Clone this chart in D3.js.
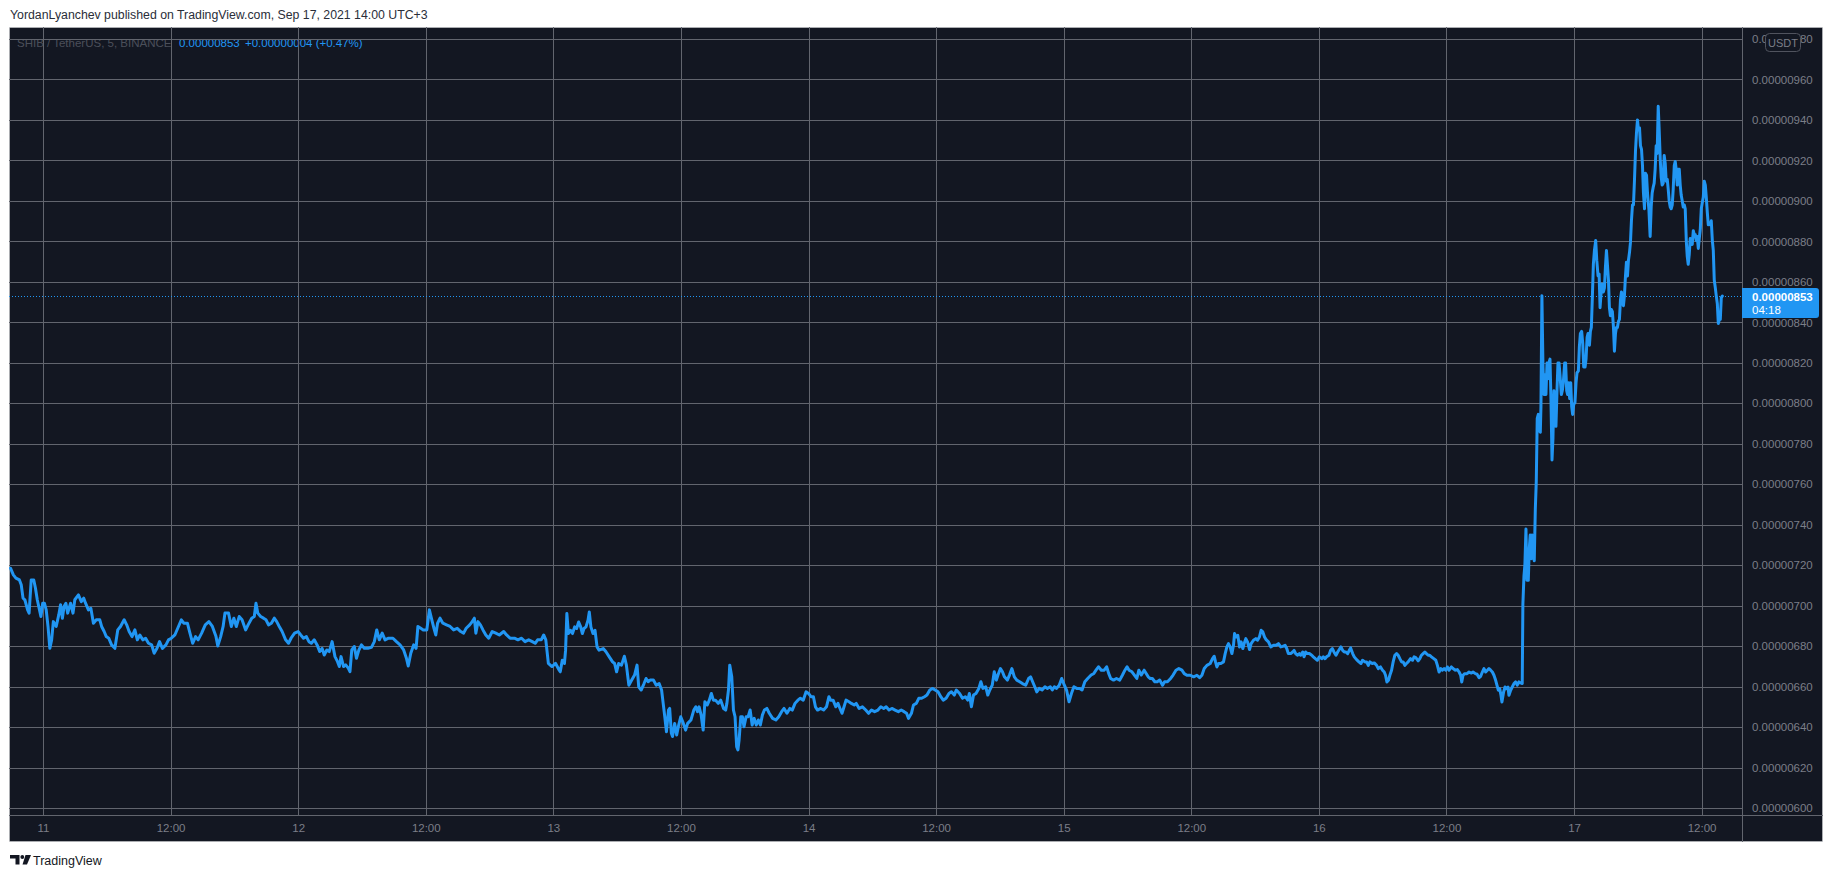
<!DOCTYPE html>
<html><head><meta charset="utf-8">
<script src="https://cdn.jsdelivr.net/npm/d3@7"></script>
<style>
html,body{margin:0;padding:0;background:#fff;}
svg{display:block;}
</style></head><body>
<svg id="chart" width="1834" height="878"></svg>
<script>
// ---------------- data ----------------
const title = "YordanLyanchev published on TradingView.com, Sep 17, 2021 14:00 UTC+3";
const symbolText = "SHIB / TetherUS, 5, BINANCE";
const lastText = "0.00000853";
const changeText = "+0.00000004 (+0.47%)";
const currencyText = "USDT";
const countdownText = "04:18";
const brandText = "TradingView";

const START = Date.UTC(2021, 8, 11, 0, 0); // Sep 11 00:00 (chart time)
const xDomainHours = [-3.2, 159.8];
const yDomain = [600, 980];                 // price in 1e-8 USDT
const lastPrice = 853;

const yTicks = [600,620,640,660,680,700,720,740,760,780,800,820,840,860,880,900,920,940,960,980];
const yTickLabels = ["0.00000600","0.00000620","0.00000640","0.00000660","0.00000680","0.00000700","0.00000720","0.00000740","0.00000760","0.00000780","0.00000800","0.00000820","0.00000840","0.00000860","0.00000880","0.00000900","0.00000920","0.00000940","0.00000960","0.00000980"];
const xTickHours = [0,12,24,36,48,60,72,84,96,108,120,132,144,156];
const xTickLabels = ["11","12:00","12","12:00","13","12:00","14","12:00","15","12:00","16","12:00","17","12:00"];

// [hours since Sep 11 00:00, price in 1e-8 USDT]
const pricesSep11 = [[-3.06,718.5],[-2.79,715.2],[-2.55,713.6],[-2.22,712.7],[-2.05,710.3],[-1.88,703.7],[-1.71,702.9],[-1.45,697.9],[-1.31,696.3],[-1.11,712.7],[-0.87,712.7],[-0.71,708.6],[-0.54,702.9],[-0.20,694.6],[-0.03,701.2],[0.13,701.2],[0.30,697.9],[0.47,689.7],[0.64,678.9],[0.81,683.1],[0.97,692.1],[1.24,689.7],[1.48,695.4],[1.65,700.4],[1.82,693.8],[1.98,699.6],[2.15,701.2],[2.32,696.3],[2.59,701.2],[2.82,696.3],[2.99,702.9],[3.33,705.3],[3.60,702.0],[3.83,703.7],[4.00,701.2],[4.27,697.9],[4.50,698.7],[4.74,691.3],[5.01,693.0],[5.34,693.0],[5.51,689.7],[5.75,687.2],[5.95,684.7],[6.18,683.9],[6.45,680.6],[6.76,678.9],[7.03,688.0],[7.29,689.7],[7.63,693.0],[7.87,690.5],[8.10,687.2],[8.37,684.7],[8.64,688.0],[8.87,683.1],[9.11,685.5],[9.38,683.1],[9.65,683.9],[9.92,681.4],[10.22,680.6],[10.45,676.5],[10.72,678.9],[10.96,682.2],[11.23,678.9],[11.56,680.6],[11.80,683.1],[12.07,683.9],[12.40,685.5],[12.74,689.7],[13.01,693.0],[13.24,691.3],[13.58,691.3],[13.82,686.4],[14.08,681.4],[14.35,684.7],[14.59,683.1],[14.92,686.4],[15.26,690.5],[15.60,692.1],[15.93,689.7],[16.27,684.7],[16.44,680.1],[16.71,684.7],[16.94,689.7],[17.11,696.3],[17.45,696.3],[17.71,689.7],[17.95,693.8],[18.18,689.7],[18.45,694.6],[18.72,693.0],[19.06,688.0],[19.29,690.5],[19.63,693.8],[19.87,694.6],[20.03,701.2],[20.20,696.3],[20.47,694.6],[20.74,693.8],[20.97,693.0],[21.21,690.5],[21.48,691.3],[21.75,693.8],[21.98,692.1],[22.22,689.7],[22.49,687.2],[22.82,683.1],[23.09,681.4],[23.33,683.9],[23.66,686.4]];
const pricesSep12 = [[24.00,687.2],[24.24,685.5],[24.50,683.9],[24.77,684.7],[25.01,682.2],[25.24,681.4],[25.51,683.1],[25.78,680.6],[26.02,677.3],[26.25,678.9],[26.45,675.6],[26.69,678.1],[26.92,677.3],[27.19,682.2],[27.46,674.8],[27.70,672.3],[27.87,669.9],[28.03,674.8],[28.27,669.9],[28.47,670.7],[28.71,669.1],[28.87,667.4],[29.04,678.1],[29.28,679.8],[29.48,674.0],[29.71,678.1],[29.95,680.6],[30.22,678.9],[30.55,678.9],[30.89,679.4],[31.16,682.2],[31.39,688.0],[31.63,683.1],[31.90,686.4],[32.17,683.1],[32.50,683.9],[32.91,683.9],[33.24,682.2],[33.58,680.6],[33.92,678.1],[34.18,674.0],[34.35,670.2],[34.59,676.5],[34.86,680.6],[35.09,678.9],[35.26,689.7],[35.53,688.8],[35.76,688.0],[36.10,688.0],[36.34,697.9],[36.61,692.1],[36.77,688.8],[36.94,685.5],[37.11,691.3],[37.34,693.8],[37.61,691.3],[37.95,690.5],[38.29,689.7],[38.62,688.0],[38.96,688.8],[39.29,687.2],[39.56,686.4],[39.80,688.8],[40.13,690.5],[40.37,692.1],[40.57,693.8],[40.71,686.4],[40.91,692.1],[41.14,690.5],[41.38,688.0],[41.65,685.5],[41.92,683.9],[42.25,687.2],[42.59,686.4],[42.92,685.5],[43.33,687.2],[43.60,685.5],[43.93,683.9],[44.34,683.9],[44.67,683.1],[45.01,683.9],[45.34,682.2],[45.68,683.1],[46.02,682.2],[46.29,681.4],[46.52,683.1],[46.86,683.1],[47.09,685.5],[47.29,683.1],[47.53,671.5],[47.87,669.9]];
const pricesSep13 = [[48.20,671.5],[48.54,668.2],[48.65,667.3],[48.84,673.0],[49.04,671.4],[49.15,678.0],[49.27,696.1],[49.42,686.2],[49.61,687.8],[49.80,686.2],[50.00,689.5],[50.19,688.7],[50.38,691.9],[50.57,689.5],[50.73,686.2],[50.88,688.7],[51.07,689.5],[51.26,692.8],[51.38,696.9],[51.53,689.5],[51.73,686.2],[51.92,687.8],[52.11,679.6],[52.30,678.0],[52.69,678.8],[52.95,677.2],[53.26,674.7],[53.57,672.2],[53.76,671.4],[53.95,667.3],[54.14,671.4],[54.41,670.6],[54.68,675.0],[54.87,670.6],[55.10,660.7],[55.37,663.2],[55.64,665.7],[55.87,670.6],[56.03,659.9],[56.26,658.3],[56.53,661.5],[56.72,664.0],[56.91,662.4],[57.10,663.2],[57.41,663.2],[57.68,660.7],[57.95,661.5],[58.18,658.3],[58.33,651.7],[58.48,645.1],[58.64,637.7],[58.83,648.4],[58.94,649.2],[59.10,636.9],[59.21,635.3],[59.41,641.8],[59.60,636.1],[59.79,641.0],[59.98,645.1],[60.17,642.6],[60.44,638.5],[60.63,641.8],[60.94,643.5],[61.21,648.4],[61.40,650.0],[61.56,647.6],[61.71,650.0],[61.90,645.9],[62.09,638.5],[62.25,652.5],[62.48,650.9],[62.67,653.3],[62.86,656.6],[63.05,653.3],[63.25,653.3],[63.51,651.7],[63.74,653.3],[64.01,649.2],[64.21,648.4],[64.32,651.7],[64.47,658.3],[64.59,670.6],[64.78,664.8],[64.94,648.4],[65.09,645.1],[65.24,630.3],[65.36,628.7],[65.47,633.6],[65.63,645.1],[65.78,645.1],[65.93,640.2],[66.13,645.1],[66.32,645.1],[66.51,648.4],[66.70,641.0],[66.89,644.3],[67.09,641.0],[67.28,643.5],[67.47,641.0],[67.66,645.9],[67.85,648.4],[68.08,649.2],[68.31,646.8],[68.62,644.3],[68.93,643.5],[69.20,645.1],[69.47,647.6],[69.70,649.2],[69.97,646.8],[70.24,649.2],[70.47,648.4],[70.73,651.7],[71.00,653.3],[71.23,654.2],[71.50,653.3],[71.77,657.4]];
const pricesSep14 = [[72.00,656.6],[72.23,655.0],[72.46,655.0],[72.65,650.0],[72.85,648.4],[73.15,649.2],[73.42,648.4],[73.69,650.0],[73.92,655.0],[74.08,653.3],[74.31,653.3],[74.57,650.0],[74.77,651.7],[74.96,649.2],[75.15,646.8],[75.34,650.0],[75.53,653.3],[75.80,652.5],[76.03,651.7],[76.30,650.9],[76.49,651.7],[76.76,649.2],[77.07,650.0],[77.38,648.4],[77.65,646.8],[77.92,648.4],[78.22,647.6],[78.53,648.4],[78.80,650.0],[79.07,649.2],[79.30,650.0],[79.57,648.4],[79.84,649.2],[80.14,648.4],[80.45,647.6],[80.72,648.4],[80.99,647.6],[81.22,646.8],[81.41,644.3],[81.68,646.8],[81.87,650.9],[82.14,651.7],[82.37,654.2],[82.64,654.2],[82.91,655.0],[83.14,655.8],[83.41,658.3],[83.68,659.1],[83.91,658.3],[84.18,657.4],[84.44,655.0],[84.67,653.3],[84.94,654.2],[85.21,656.6],[85.44,657.4],[85.71,655.8],[85.90,658.3],[86.21,656.6],[86.48,654.2],[86.75,655.0],[86.98,653.3],[87.13,656.6],[87.32,650.0],[87.52,655.8],[87.75,656.6],[88.02,659.1],[88.21,662.4],[88.40,659.1],[88.67,659.9],[88.86,655.8],[89.05,658.3],[89.28,660.7],[89.47,667.3],[89.67,663.2],[89.82,665.7],[90.05,668.9],[90.24,667.3],[90.43,664.8],[90.70,663.2],[90.90,665.7],[91.13,668.9],[91.36,664.8],[91.59,663.2],[91.86,662.4],[92.12,661.5],[92.43,660.7],[92.70,664.0],[92.89,664.8],[93.08,662.4],[93.28,659.9],[93.47,657.4],[93.70,659.1],[93.97,658.3],[94.24,659.9],[94.47,659.1],[94.74,659.9],[94.93,658.3],[95.12,659.9],[95.31,659.1],[95.58,660.7],[95.81,664.0]];
const pricesSep15 = [[96.00,661.5],[96.27,658.3],[96.50,652.5],[96.73,656.6],[96.96,659.9],[97.23,659.1],[97.50,659.1],[97.73,658.3],[97.99,662.4],[98.26,664.0],[98.58,665.7],[98.84,666.5],[99.04,668.1],[99.27,669.8],[99.54,668.1],[99.81,668.1],[100.04,669.8],[100.23,666.5],[100.42,664.0],[100.69,663.2],[100.96,664.0],[101.27,663.2],[101.53,665.7],[101.76,668.1],[101.96,669.8],[102.15,668.1],[102.42,667.3],[102.65,665.7],[102.88,664.0],[103.07,668.1],[103.30,665.7],[103.57,668.1],[103.76,666.5],[103.95,664.8],[104.14,664.0],[104.34,664.0],[104.57,662.4],[104.80,662.4],[105.03,663.2],[105.30,660.7],[105.49,662.4],[105.76,662.4],[106.06,664.0],[106.29,665.7],[106.56,668.1],[106.83,668.9],[107.12,668.1],[107.34,666.4],[107.59,665.6],[107.91,665.6],[108.22,664.8],[108.53,665.6],[108.78,664.4],[109.00,665.6],[109.22,668.9],[109.47,670.5],[109.78,671.4],[110.00,673.8],[110.16,675.0],[110.28,672.2],[110.41,669.7],[110.57,671.4],[110.78,671.4],[111.03,672.2],[111.19,676.3],[111.35,679.6],[111.50,681.2],[111.66,679.6],[111.82,676.3],[111.97,680.4],[112.07,686.2],[112.22,684.5],[112.38,685.3],[112.54,679.6],[112.69,682.1],[112.85,678.8],[112.97,681.2],[113.13,683.7],[113.29,682.1],[113.48,678.3],[113.63,681.2],[113.85,682.9],[114.07,683.7],[114.23,682.9],[114.41,684.5],[114.57,687.8],[114.73,687.0],[114.89,684.5],[115.04,683.2],[115.26,682.1],[115.48,679.6],[115.73,680.4],[115.98,680.4],[116.20,681.2],[116.42,679.6],[116.60,679.9],[116.82,680.4],[116.98,678.8],[117.13,676.3],[117.35,676.3],[117.54,677.1],[117.67,677.9],[117.82,676.3],[117.98,675.5],[118.17,676.3],[118.29,675.5],[118.48,677.1],[118.61,674.7],[118.76,677.1],[118.92,676.3],[119.11,676.3],[119.33,675.5],[119.48,674.7],[119.67,673.8],[119.86,673.0]];
const pricesSep16 = [[120.05,674.7],[120.27,673.8],[120.42,674.7],[120.58,673.8],[120.73,674.7],[120.95,675.5],[121.11,677.9],[121.27,678.8],[121.42,677.1],[121.61,675.5],[121.77,677.1],[121.92,678.3],[122.08,679.6],[122.24,677.9],[122.39,677.1],[122.55,677.1],[122.71,676.3],[122.86,677.9],[122.99,679.1],[123.18,676.3],[123.33,674.7],[123.55,673.3],[123.77,672.2],[123.96,671.4],[124.11,673.0],[124.33,672.2],[124.49,672.2],[124.65,670.5],[124.80,672.2],[125.02,671.4],[125.21,671.7],[125.43,670.5],[125.59,668.9],[125.80,669.7],[125.99,668.1],[126.15,667.2],[126.27,665.6],[126.40,662.3],[126.55,663.1],[126.68,665.6],[126.84,668.1],[126.99,672.2],[127.15,675.5],[127.31,676.3],[127.46,675.5],[127.62,673.8],[127.78,672.2],[127.93,672.2],[128.09,670.5],[128.24,671.4],[128.40,672.2],[128.62,673.8],[128.81,673.0],[128.96,674.7],[129.12,674.3],[129.34,672.7],[129.50,673.8],[129.65,675.5],[129.81,676.3],[129.97,677.1],[130.12,676.3],[130.28,675.5],[130.43,675.5],[130.59,674.7],[130.81,673.8],[131.00,673.0],[131.15,670.5],[131.31,667.2],[131.47,668.9],[131.62,668.1],[131.78,668.9],[131.94,668.1],[132.09,669.7],[132.25,668.1],[132.47,669.7],[132.62,668.9],[132.84,668.1],[133.03,668.4],[133.19,667.2],[133.34,665.6],[133.44,662.3],[133.56,665.6],[133.72,666.4],[133.94,666.4],[134.13,667.2],[134.35,666.7],[134.50,667.2],[134.72,666.4],[134.88,666.1],[135.07,664.4],[135.22,665.1],[135.38,667.2],[135.53,668.9],[135.69,667.2],[135.85,668.1],[136.00,668.9],[136.16,668.1],[136.32,667.2],[136.47,665.6],[136.63,663.1],[136.75,660.7],[136.88,658.2],[137.01,659.0],[137.13,655.7],[137.22,652.4],[137.38,657.4],[137.51,659.8],[137.63,659.0],[137.79,659.8],[137.88,655.7],[138.04,658.2],[138.19,659.8],[138.35,661.5],[138.51,662.3],[138.66,660.7],[138.82,662.3],[138.98,661.8],[139.13,661.5],[139.19,700.7],[139.29,714.4],[139.38,720.3],[139.48,737.9],[139.57,712.5],[139.70,712.5],[139.79,728.1],[139.88,734.9],[139.98,723.2],[140.07,734.9],[140.17,726.1],[140.26,722.2],[140.36,747.6],[140.45,761.3],[140.54,792.5],[140.64,794.5],[140.70,786.7],[140.83,785.7],[140.89,798.4],[140.98,853.1],[141.08,817.9],[141.17,804.3],[141.27,814.0],[141.36,804.3],[141.46,819.9],[141.55,812.1],[141.64,819.9],[141.74,821.8],[141.83,802.3],[141.93,772.0],[142.02,782.8],[142.11,806.2],[142.21,798.4],[142.30,788.6],[142.40,806.2],[142.49,819.9],[142.59,819.9],[142.68,814.0],[142.81,804.3],[142.90,806.2],[142.99,810.1],[143.12,819.9],[143.21,819.9],[143.31,806.2],[143.40,804.3],[143.50,810.1],[143.59,802.3],[143.69,810.1],[143.78,798.4],[143.87,794.5],[143.97,799.4]];
const pricesSep17 = [[144.09,800.4],[144.19,810.1],[144.28,815.0],[144.41,816.0],[144.50,827.7],[144.60,834.5],[144.72,835.5],[144.82,829.6],[144.91,817.9],[145.04,817.9],[145.13,821.8],[145.23,832.6],[145.32,834.5],[145.45,828.7],[145.54,835.5],[145.63,837.5],[145.73,853.1],[145.82,868.7],[145.92,875.5],[146.04,880.4],[146.14,870.7],[146.26,862.9],[146.36,863.8],[146.45,847.2],[146.54,854.1],[146.64,858.9],[146.76,855.0],[146.86,857.0],[146.95,866.8],[147.05,875.5],[147.14,868.7],[147.24,860.9],[147.33,847.2],[147.42,843.3],[147.52,846.3],[147.61,845.3],[147.71,837.5],[147.80,825.7],[147.90,834.5],[147.99,837.5],[148.08,837.5],[148.18,840.4],[148.27,841.4],[148.37,851.1],[148.46,855.0],[148.56,849.2],[148.65,848.2],[148.74,853.1],[148.84,862.9],[148.93,869.7],[149.03,862.9],[149.12,870.7],[149.22,874.6],[149.31,879.5],[149.40,890.2],[149.50,898.0],[149.59,898.0],[149.69,910.7],[149.78,924.4],[149.87,933.2],[149.97,940.0],[150.06,935.1],[150.16,936.1],[150.25,927.3],[150.35,925.4],[150.44,917.5],[150.53,903.9],[150.63,896.1],[150.72,913.6],[150.82,912.7],[150.91,903.9],[151.04,896.1],[151.16,882.4],[151.26,897.0],[151.35,903.9],[151.45,906.8],[151.54,908.8],[151.63,915.6],[151.73,927.3],[151.82,923.4],[151.92,946.8],[152.01,935.1],[152.11,920.5],[152.20,911.7],[152.29,907.8],[152.39,908.8],[152.48,922.4],[152.58,918.5],[152.67,909.7],[152.77,910.7],[152.86,905.8],[152.95,900.0],[153.05,897.0],[153.14,896.1],[153.24,898.0],[153.33,905.8],[153.43,917.5],[153.52,919.5],[153.61,915.6],[153.71,907.8],[153.80,915.6],[153.90,915.6],[153.99,907.8],[154.08,902.9],[154.18,900.0],[154.27,897.0],[154.37,898.0],[154.46,896.1],[154.56,880.4],[154.65,872.6],[154.74,868.7],[154.84,873.6],[154.93,881.4],[155.03,878.5],[155.12,878.5],[155.22,885.3],[155.31,883.4],[155.40,883.4],[155.50,880.4],[155.59,882.4],[155.69,876.5],[155.78,881.4],[155.88,886.3],[155.97,896.1],[156.06,899.0],[156.16,901.9],[156.25,909.7],[156.35,907.8],[156.44,901.9],[156.54,894.1],[156.63,888.2],[156.72,889.2],[156.82,888.2],[156.91,890.2],[157.01,880.4],[157.10,875.5],[157.19,860.9],[157.29,857.0],[157.38,853.1],[157.48,849.2],[157.57,839.4],[157.67,841.4],[157.76,841.4],[157.85,852.1],[157.95,853.0]];

// ---------------- drawing ----------------
const FONT = '"Liberation Sans", Arial, sans-serif';
const BG = "#131722", GRID = "#62656e", AXIS_TEXT = "#7b7e88", BLUE = "#2196f3";
const panel = {x0: 9, y0: 27, x1: 1823, y1: 842};
const plot = {left: 9, right: 1742, top: 27, bottom: 815};

const series = [].concat(pricesSep11, pricesSep12, pricesSep13, pricesSep14, pricesSep15, pricesSep16, pricesSep17);
const toDate = h => new Date(START + h * 3600e3);

const x = d3.scaleUtc().domain(xDomainHours.map(toDate)).range([plot.left, plot.right]);
const y = d3.scaleLinear().domain(yDomain).range([808, 39]);

const svg = d3.select("#chart");

// header
svg.append("text").attr("x", 10).attr("y", 15).attr("dominant-baseline", "central")
  .attr("font-family", FONT).attr("font-size", "12.3px").attr("fill", "#2a2e39").text(title);

// panel
svg.append("rect").attr("x", panel.x0 + 0.5).attr("y", panel.y0 + 0.5)
  .attr("width", panel.x1 - panel.x0 - 1).attr("height", panel.y1 - panel.y0 - 1)
  .attr("fill", BG).attr("stroke", "#cfd0d3").attr("stroke-dasharray", "1,1");

// legend (under grid)
const legend = svg.append("text").attr("x", 17).attr("y", 43).attr("dominant-baseline", "central")
  .attr("font-family", FONT).attr("font-size", "11.5px");
legend.append("tspan").attr("fill", "#4b4f5a").text(symbolText);
legend.append("tspan").attr("x", 179).attr("fill", BLUE).text(lastText);
legend.append("tspan").attr("x", 245).attr("fill", BLUE).text(changeText);

// horizontal grid
svg.append("g").attr("transform", `translate(${plot.right},0)`)
  .call(d3.axisLeft(y).tickValues(yTicks).tickSize(plot.right - plot.left).tickFormat(""))
  .call(g => g.select(".domain").remove())
  .call(g => g.selectAll("line").attr("stroke", GRID).attr("shape-rendering", "crispEdges"));

// vertical grid
const xTickDates = xTickHours.map(toDate);
svg.append("g").attr("transform", `translate(0,${plot.bottom})`)
  .call(d3.axisTop(x).tickValues(xTickDates).tickSize(plot.bottom - plot.top).tickFormat(""))
  .call(g => g.select(".domain").remove())
  .call(g => g.selectAll("line").attr("stroke", GRID).attr("shape-rendering", "crispEdges"));

// separators
svg.append("line").attr("x1", plot.right + 0.5).attr("x2", plot.right + 0.5).attr("y1", panel.y0).attr("y2", panel.y1)
  .attr("stroke", GRID);
svg.append("line").attr("x1", panel.x0).attr("x2", panel.x1).attr("y1", plot.bottom + 0.5).attr("y2", plot.bottom + 0.5)
  .attr("stroke", GRID);

// clip
svg.append("clipPath").attr("id", "plotclip").append("rect")
  .attr("x", plot.left).attr("y", plot.top).attr("width", plot.right - plot.left).attr("height", plot.bottom - plot.top);

// last price dotted line
svg.append("line").attr("x1", plot.left).attr("x2", plot.right)
  .attr("y1", Math.round(y(lastPrice)) + 0.5).attr("y2", Math.round(y(lastPrice)) + 0.5)
  .attr("stroke", BLUE).attr("stroke-width", 1).attr("stroke-dasharray", "1,2");

// price line
const line = d3.line().x(d => x(toDate(d[0]))).y(d => y(d[1]));
svg.append("path").datum(series).attr("clip-path", "url(#plotclip)")
  .attr("d", line).attr("fill", "none").attr("stroke", BLUE)
  .attr("stroke-width", 3).attr("stroke-linejoin", "round").attr("stroke-linecap", "round");

// y axis labels
svg.append("g").attr("transform", `translate(${plot.right},0)`)
  .call(d3.axisRight(y).tickValues(yTicks).tickSize(0).tickPadding(10).tickFormat((d, i) => yTickLabels[i]))
  .call(g => g.select(".domain").remove())
  .call(g => g.selectAll("text").attr("font-family", FONT).attr("font-size", "11.5px").attr("fill", AXIS_TEXT));

// USDT badge
const badge = svg.append("g");
badge.append("rect").attr("x", 1765.5).attr("y", 33.5).attr("width", 35).attr("height", 18).attr("rx", 4)
  .attr("fill", BG).attr("stroke", "#50535e");
badge.append("text").attr("x", 1783).attr("y", 42.5).attr("text-anchor", "middle").attr("dominant-baseline", "central")
  .attr("font-family", FONT).attr("font-size", "11px").attr("fill", AXIS_TEXT).text(currencyText);

// last price label
const lp = svg.append("g");
const lpY = y(lastPrice);
lp.append("path").attr("d", `M${plot.right},${lpY - 8} h74 a3,3 0 0 1 3,3 v24 a3,3 0 0 1 -3,3 h-74 Z`).attr("fill", BLUE);
lp.append("text").attr("x", 1752).attr("y", lpY + 0.5).attr("dominant-baseline", "central")
  .attr("font-family", FONT).attr("font-size", "11.5px").attr("font-weight", "bold").attr("fill", "#fff").text(lastText);
lp.append("text").attr("x", 1752).attr("y", lpY + 14).attr("dominant-baseline", "central")
  .attr("font-family", FONT).attr("font-size", "11.5px").attr("fill", "#fff").text(countdownText);

// x axis labels
svg.append("g").attr("transform", `translate(0,${plot.bottom})`)
  .call(d3.axisBottom(x).tickValues(xTickDates).tickSize(0).tickFormat((d, i) => xTickLabels[i]))
  .call(g => g.select(".domain").remove())
  .call(g => g.selectAll("text").attr("y", 13).attr("dy", "0.35em")
    .attr("font-family", FONT).attr("font-size", "11.5px").attr("fill", AXIS_TEXT));

// TradingView brand
const brand = svg.append("g").attr("fill", "#131722");
brand.append("path").attr("d", "M10,855 H19.5 V864.5 H15.5 V858.5 H10 Z");
brand.append("circle").attr("cx", 22.3).attr("cy", 857).attr("r", 1.9);
brand.append("path").attr("d", "M25.5,855 H31 L27,864.5 H22.5 Z");
brand.append("text").attr("x", 33).attr("y", 860.5).attr("dominant-baseline", "central")
  .attr("font-family", FONT).attr("font-size", "12.5px").attr("fill", "#131722").text(brandText);
</script>
</body></html>
